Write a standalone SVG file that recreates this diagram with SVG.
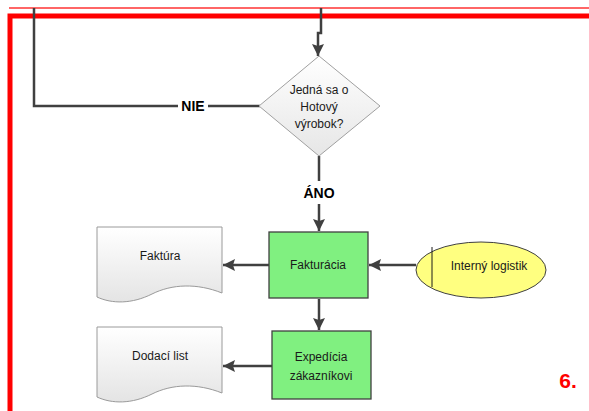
<svg xmlns="http://www.w3.org/2000/svg" width="589" height="411" viewBox="0 0 589 411">
  <style>
    .lbl { font-family: "Liberation Sans", Arial, sans-serif; font-size: 12px; fill: #1a1a1a; text-anchor: middle; }
    .bold { font-family: "Liberation Sans", Arial, sans-serif; font-size: 14px; font-weight: bold; fill: #000; text-anchor: middle; }
    .conn { fill: none; stroke: #404040; stroke-width: 2.5; }
    .proc { fill: #80F080; stroke: #404040; stroke-width: 1.3; }
    .doc { fill: url(#docGrad); stroke: #9a9a9a; stroke-width: 1; }
  </style>
  <defs>
    <linearGradient id="docGrad" x1="0" y1="0" x2="0" y2="1">
      <stop offset="0" stop-color="#ffffff"/>
      <stop offset="1" stop-color="#e4e4e4"/>
    </linearGradient>
    <linearGradient id="decGrad" x1="0" y1="0" x2="0" y2="1">
      <stop offset="0" stop-color="#ffffff"/>
      <stop offset="1" stop-color="#e6e6e6"/>
    </linearGradient>
    <marker id="arrow" markerUnits="userSpaceOnUse" markerWidth="13" markerHeight="12" refX="12" refY="6" orient="auto">
      <path d="M0,0 L12,6 L0,12 L2,6 Z" fill="#404040"/>
    </marker>
    <path id="docShape" d="M0,0 H125 V66 C100,56 75,57 55,67 C35,77 15,77 0,70 Z"/>
  </defs>

  <!-- page frame -->
  <line x1="9" y1="8" x2="589" y2="8" stroke="#ff3333" stroke-width="1.5"/>
  <path d="M10,411 V16 H589" fill="none" stroke="#ff0000" stroke-width="5"/>

  <!-- connectors -->
  <g id="connectors">
    <path class="conn" d="M34,8 V106 H178"/>
    <path class="conn" d="M208,106 H260"/>
    <path class="conn" d="M321,8 V33 H318 V56" marker-end="url(#arrow)"/>
    <path class="conn" d="M319,156 V181"/>
    <path class="conn" d="M319,204 V231" marker-end="url(#arrow)"/>
    <path class="conn" d="M319,299 V330" marker-end="url(#arrow)"/>
    <path class="conn" d="M269,265 H223" marker-end="url(#arrow)"/>
    <path class="conn" d="M272,366 H223" marker-end="url(#arrow)"/>
    <path class="conn" d="M416,265 H369" marker-end="url(#arrow)"/>
    <text class="bold" x="193" y="111">NIE</text>
    <text class="bold" x="319" y="198">ÁNO</text>
  </g>

  <g id="decision">
    <polygon points="319,56 380,106 319,156 259,106" fill="url(#decGrad)" stroke="#a0a0a0" stroke-width="1"/>
    <text class="lbl" x="319" y="94">Jedná sa o</text>
    <text class="lbl" x="319" y="111">Hotový</text>
    <text class="lbl" x="319" y="128">výrobok?</text>
  </g>

  <g id="fakturacia">
    <rect class="proc" x="269" y="232" width="99" height="66"/>
    <text class="lbl" x="318" y="269">Fakturácia</text>
  </g>

  <g id="expedicia">
    <rect class="proc" x="272" y="331" width="99" height="68"/>
    <text class="lbl" x="321" y="361">Expedícia</text>
    <text class="lbl" x="321" y="380">zákazníkovi</text>
  </g>

  <g id="faktura">
    <use href="#docShape" class="doc" transform="translate(97,227)"/>
    <text class="lbl" x="160" y="260">Faktúra</text>
  </g>

  <g id="dodaci-list">
    <use href="#docShape" class="doc" transform="translate(97,327)"/>
    <text class="lbl" x="160" y="360">Dodací list</text>
  </g>

  <g id="interny-logistik">
    <ellipse cx="481" cy="270" rx="65" ry="28" fill="#FFFF80" stroke="#404040" stroke-width="1"/>
    <line x1="432" y1="247" x2="432" y2="287" stroke="#1a1a1a" stroke-width="1"/>
    <text class="lbl" x="489" y="270">Interný logistik</text>
  </g>

  <text x="568" y="388" font-family="Liberation Sans, Arial, sans-serif" font-size="21" font-weight="bold" fill="#ff0000" text-anchor="middle">6.</text>
</svg>
